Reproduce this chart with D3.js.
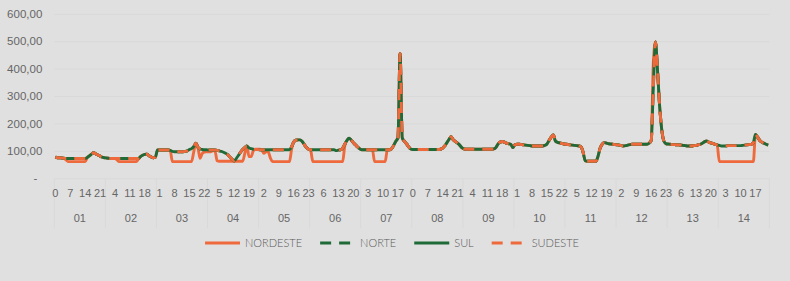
<!DOCTYPE html>
<html>
<head>
<meta charset="utf-8" />
<script src="https://cdn.jsdelivr.net/npm/d3@7/dist/d3.min.js"></script>
<style>
  body { margin: 0; background: #e0e0e0; }
  svg { display: block; font-family: Lato, "Open Sans", sans-serif; }
  .grid line { stroke: #d9d9d9; stroke-width: 1px; }
  .axis text { fill: #666; font-size: 11px; font-weight: 300; }
  .sep { stroke: #d9d9d9; stroke-width: 1px; }
  .line { fill: none; stroke-width: 2.9px; }
  .legend text { fill: #595959; font-size: 11px; font-weight: 300; }
</style>
</head>
<body>
<script>
"use strict";

var days = ["01", "02", "03", "04", "05", "06", "07", "08", "09", "10", "11", "12", "13", "14"];
var hours = [0, 1, 2, 3, 4, 5, 6, 7, 8, 9, 10, 11, 12, 13, 14, 15, 16, 17, 18, 19, 20, 21, 22, 23];
var yTicks = [0, 100, 200, 300, 400, 500, 600];

// one row per day, 24 hourly values
var nordeste = [
  77, 75, 75, 74, 73, 67, 61, 61, 61, 61, 61, 61, 61, 61, 61, 76, 82, 88, 93, 89, 85, 81, 77, 75,
  74, 73, 72, 72, 72, 67, 61, 61, 61, 61, 61, 61, 61, 61, 61, 70, 79, 84, 87, 88, 82, 78, 75, 77,
  103, 103, 103, 103, 103, 103, 100, 61, 61, 61, 61, 61, 61, 61, 61, 61, 61, 95, 128, 113, 73, 90, 96, 97,
  97, 97, 100, 100, 64, 62, 62, 62, 62, 62, 62, 62, 62, 62, 62, 62, 62, 90, 118, 79, 79, 100, 106, 106,
  106, 103, 91, 97, 97, 75, 61, 61, 61, 61, 61, 61, 61, 61, 61, 105, 132, 139, 140, 140, 134, 123, 112, 106,
  100, 61, 61, 61, 61, 61, 61, 61, 61, 61, 61, 61, 61, 61, 61, 61, 118, 138, 146, 140, 130, 122, 114, 108,
  104, 104, 104, 104, 104, 104, 61, 61, 61, 61, 61, 61, 104, 104, 108, 120, 135, 148, 455, 148, 135, 126, 115, 107,
  105, 105, 105, 105, 105, 105, 105, 105, 105, 105, 105, 105, 105, 106, 110, 118, 130, 142, 152, 140, 134, 128, 121, 112,
  107, 106, 106, 106, 106, 106, 106, 106, 106, 106, 106, 106, 106, 106, 107, 112, 125, 132, 134, 132, 128, 126, 124, 112,
  123, 124, 124, 123, 122, 121, 120, 119, 118, 118, 118, 118, 118, 118, 120, 125, 138, 150, 158, 136, 131, 129, 127, 125,
  124, 123, 122, 121, 120, 119, 118, 115, 95, 64, 62, 62, 62, 62, 62, 80, 110, 125, 130, 128, 126, 125, 124, 123,
  122, 121, 119, 118, 119, 121, 123, 124, 124, 124, 124, 124, 124, 124, 124, 128, 138, 420, 497, 390, 260, 175, 135, 126,
  125, 124, 123, 123, 122, 122, 121, 120, 119, 118, 118, 118, 119, 120, 122, 124, 128, 133, 136, 132, 129, 127, 124, 122,
  61, 61, 61, 61, 61, 61, 61, 61, 61, 61, 61, 61, 61, 61, 61, 61, 61, 160, 150, 138, 132, 128, 124, 121
];

var norte = [
  77, 75, 75, 74, 73, 72, 72, 72, 72, 72, 72, 72, 72, 72, 72, 76, 82, 88, 93, 89, 85, 81, 77, 75,
  74, 73, 72, 72, 72, 72, 72, 72, 72, 72, 72, 72, 72, 72, 72, 72, 79, 84, 87, 88, 82, 78, 75, 77,
  103, 103, 103, 103, 103, 103, 102, 98, 97, 97, 97, 97, 97, 98, 100, 105, 108, 116, 128, 113, 107, 105, 104, 104,
  103, 103, 103, 103, 102, 100, 98, 95, 91, 86, 78, 70, 63, 72, 83, 95, 105, 112, 118, 111, 108, 106, 105, 105,
  104, 104, 104, 104, 104, 104, 104, 104, 104, 104, 104, 104, 104, 104, 104, 115, 132, 139, 140, 140, 134, 123, 112, 106,
  104, 104, 104, 104, 104, 104, 104, 104, 104, 104, 104, 104, 101, 103, 104, 110, 124, 138, 146, 140, 130, 122, 114, 108,
  104, 104, 104, 104, 104, 104, 104, 104, 104, 104, 104, 104, 104, 104, 108, 120, 135, 148, 455, 148, 135, 126, 115, 107,
  105, 105, 105, 105, 105, 105, 105, 105, 105, 105, 105, 105, 105, 106, 110, 118, 130, 142, 152, 140, 134, 128, 121, 112,
  107, 106, 106, 106, 106, 106, 106, 106, 106, 106, 106, 106, 106, 106, 107, 112, 125, 132, 134, 132, 128, 126, 124, 112,
  123, 124, 124, 123, 122, 121, 120, 119, 118, 118, 118, 118, 118, 118, 120, 125, 138, 150, 158, 136, 131, 129, 127, 125,
  124, 123, 122, 121, 120, 119, 118, 115, 95, 64, 62, 62, 62, 62, 62, 80, 110, 125, 130, 128, 126, 125, 124, 123,
  122, 121, 119, 118, 119, 121, 123, 124, 124, 124, 124, 124, 124, 124, 124, 128, 138, 330, 497, 390, 260, 175, 135, 126,
  125, 124, 123, 123, 122, 122, 121, 120, 119, 118, 118, 118, 119, 120, 122, 124, 128, 133, 136, 132, 129, 127, 124, 122,
  120, 118, 118, 118, 119, 119, 119, 119, 119, 119, 119, 120, 121, 122, 123, 124, 130, 160, 150, 138, 132, 128, 124, 121
];

var sul = [
  77, 75, 75, 74, 73, 72, 72, 72, 72, 72, 72, 72, 72, 72, 72, 76, 82, 88, 93, 89, 85, 81, 77, 75,
  74, 73, 72, 72, 72, 72, 72, 72, 72, 72, 72, 72, 72, 72, 72, 72, 79, 84, 87, 88, 82, 78, 75, 77,
  103, 103, 103, 103, 103, 103, 102, 98, 97, 97, 97, 97, 97, 98, 100, 105, 108, 116, 128, 113, 107, 105, 104, 104,
  103, 103, 103, 103, 102, 100, 98, 95, 91, 86, 78, 70, 63, 72, 83, 95, 105, 112, 118, 111, 108, 106, 105, 105,
  104, 104, 104, 104, 104, 104, 104, 104, 104, 104, 104, 104, 104, 104, 104, 115, 132, 139, 140, 140, 134, 123, 112, 106,
  104, 104, 104, 104, 104, 104, 104, 104, 104, 104, 104, 104, 101, 103, 104, 110, 124, 138, 146, 140, 130, 122, 114, 108,
  104, 104, 104, 104, 104, 104, 104, 104, 104, 104, 104, 104, 104, 104, 108, 120, 135, 148, 455, 148, 135, 126, 115, 107,
  105, 105, 105, 105, 105, 105, 105, 105, 105, 105, 105, 105, 105, 106, 110, 118, 130, 142, 152, 140, 134, 128, 121, 112,
  107, 106, 106, 106, 106, 106, 106, 106, 106, 106, 106, 106, 106, 106, 107, 112, 125, 132, 134, 132, 128, 126, 124, 112,
  123, 124, 124, 123, 122, 121, 120, 119, 118, 118, 118, 118, 118, 118, 120, 125, 138, 150, 158, 136, 131, 129, 127, 125,
  124, 123, 122, 121, 120, 119, 118, 115, 95, 64, 62, 62, 62, 62, 62, 80, 110, 125, 130, 128, 126, 125, 124, 123,
  122, 121, 119, 118, 119, 121, 123, 124, 124, 124, 124, 124, 124, 124, 124, 128, 138, 330, 497, 390, 260, 175, 135, 126,
  125, 124, 123, 123, 122, 122, 121, 120, 119, 118, 118, 118, 119, 120, 122, 124, 128, 133, 136, 132, 129, 127, 124, 122,
  120, 118, 118, 118, 119, 119, 119, 119, 119, 119, 119, 120, 121, 122, 123, 124, 130, 160, 150, 138, 132, 128, 124, 121
];

var sudeste = [
  77, 75, 75, 74, 73, 72, 72, 72, 72, 72, 72, 72, 72, 72, 72, 76, 82, 88, 93, 89, 85, 81, 77, 75,
  74, 73, 72, 72, 72, 72, 72, 72, 72, 72, 72, 72, 72, 72, 72, 72, 79, 84, 87, 88, 82, 78, 75, 77,
  103, 103, 103, 103, 103, 103, 102, 98, 97, 97, 97, 97, 97, 98, 100, 105, 108, 116, 128, 113, 107, 105, 104, 104,
  103, 103, 103, 103, 102, 100, 98, 95, 91, 86, 78, 70, 63, 72, 83, 95, 105, 112, 118, 111, 108, 106, 105, 105,
  104, 104, 104, 104, 104, 104, 104, 104, 104, 104, 104, 104, 104, 104, 104, 115, 132, 139, 140, 140, 134, 123, 112, 106,
  104, 104, 104, 104, 104, 104, 104, 104, 104, 104, 104, 104, 101, 103, 104, 110, 124, 138, 146, 140, 130, 122, 114, 108,
  104, 104, 104, 104, 104, 104, 104, 104, 104, 104, 104, 104, 104, 104, 108, 120, 135, 148, 455, 148, 135, 126, 115, 107,
  105, 105, 105, 105, 105, 105, 105, 105, 105, 105, 105, 105, 105, 106, 110, 118, 130, 142, 152, 140, 134, 128, 121, 112,
  107, 106, 106, 106, 106, 106, 106, 106, 106, 106, 106, 106, 106, 106, 107, 112, 125, 132, 134, 132, 128, 126, 124, 112,
  123, 124, 124, 123, 122, 121, 120, 119, 118, 118, 118, 118, 118, 118, 120, 125, 138, 150, 158, 136, 131, 129, 127, 125,
  124, 123, 122, 121, 120, 119, 118, 115, 95, 64, 62, 62, 62, 62, 62, 80, 110, 125, 130, 128, 126, 125, 124, 123,
  122, 121, 119, 118, 119, 121, 123, 124, 124, 124, 124, 124, 124, 124, 124, 128, 138, 330, 497, 390, 260, 175, 135, 126,
  125, 124, 123, 123, 122, 122, 121, 120, 119, 118, 118, 118, 119, 120, 122, 124, 128, 133, 136, 132, 129, 127, 124, 122,
  120, 118, 118, 118, 119, 119, 119, 119, 119, 119, 119, 120, 121, 122, 123, 124, 130, 160, 150, 138, 132, 128, 124, 121
];

var orange = "#ee6a3c",
  green = "#1f6b38";

// drawn in this order, last on top (like the spreadsheet)
var series = [
  { name: "NORDESTE", values: nordeste, color: orange, dash: null },
  { name: "NORTE", values: norte, color: green, dash: "11,8" },
  { name: "SUL", values: sul, color: green, dash: null },
  { name: "SUDESTE", values: sudeste, color: orange, dash: "11,8" }
];

// categories: day x hour
var cats = [];
days.forEach(function(d) {
  hours.forEach(function(h) {
    cats.push({ day: d, hour: h });
  });
});

var W = 790, H = 281;
var plot = { left: 54.3, right: 769.3, top: 13.8, bottom: 178.3 };

var svg = d3.select("body").append("svg")
  .attr("width", W)
  .attr("height", H);

var x = d3.scaleBand()
  .domain(d3.range(cats.length))
  .range([plot.left, plot.right]);

var xDay = d3.scaleBand()
  .domain(days)
  .range([plot.left, plot.right]);

var y = d3.scaleLinear()
  .domain([0, 600])
  .range([plot.bottom, plot.top]);

var ptBr = d3.formatLocale({ decimal: ",", thousands: ".", grouping: [3], currency: ["R$", ""] });
var fmt = ptBr.format(",.2f");

// y grid + labels
var yAxis = svg.append("g")
  .attr("class", "axis grid")
  .attr("transform", "translate(" + plot.left + ",0)")
  .call(d3.axisLeft(y)
    .tickValues(yTicks)
    .tickSize(-(plot.right - plot.left))
    .tickPadding(12)
    .tickFormat(function(v) { return v === 0 ? "-" : fmt(v); }));
yAxis.select(".domain").remove();
yAxis.selectAll("text").style("font-size", "11.5px");
yAxis.selectAll(".tick").filter(function(v) { return v === 0; })
  .select("text").attr("x", -17);

// day separators on the category axis
var edges = days.map(function(d) { return xDay(d); }).concat([plot.right]);
svg.selectAll("line.sep")
  .data(edges)
  .enter().append("line")
  .attr("class", "sep")
  .attr("x1", function(d) { return d; })
  .attr("x2", function(d) { return d; })
  .attr("y1", y(0))
  .attr("y2", y(0) + 50);

// hour labels every 7th category
var hourAxis = svg.append("g")
  .attr("class", "axis")
  .attr("transform", "translate(0," + y(0) + ")")
  .call(d3.axisBottom(x)
    .tickValues(d3.range(0, cats.length, 7))
    .tickSize(0)
    .tickPadding(10.5)
    .tickFormat(function(i) { return cats[i].hour; }));
hourAxis.select(".domain").remove();

var dayAxis = svg.append("g")
  .attr("class", "axis")
  .attr("transform", "translate(0," + y(0) + ")")
  .call(d3.axisBottom(xDay).tickSize(0).tickPadding(35.5));
dayAxis.select(".domain").remove();

// lines
var line = d3.line()
  .x(function(d, i) { return x(i) + x.bandwidth() / 2; })
  .y(function(d) { return y(d); })
  .curve(d3.curveMonotoneX);

svg.append("g").selectAll("path")
  .data(series)
  .enter().append("path")
  .attr("class", "line")
  .attr("d", function(s) { return line(s.values); })
  .attr("stroke", function(s) { return s.color; })
  .attr("stroke-dasharray", function(s) { return s.dash; });

// legend
var legend = svg.append("g").attr("class", "legend");
var items = legend.selectAll("g")
  .data(series)
  .enter().append("g");
items.append("line")
  .attr("x1", 0).attr("x2", 35)
  .attr("y1", 243).attr("y2", 243)
  .attr("stroke", function(s) { return s.color; })
  .attr("stroke-width", 3)
  .attr("stroke-dasharray", function(s) { return s.dash; });
items.append("text")
  .attr("x", 40)
  .attr("y", 243)
  .attr("dy", "0.35em")
  .text(function(s) { return s.name; });

var offset = 0, gap = 18;
items.each(function() {
  var g = d3.select(this);
  g.attr("transform", "translate(" + offset + ",0)");
  offset += 40 + g.select("text").node().getComputedTextLength() + gap;
});
var total = offset - gap;
legend.attr("transform", "translate(" + (392 - total / 2) + ",0)");
</script>
</body>
</html>
